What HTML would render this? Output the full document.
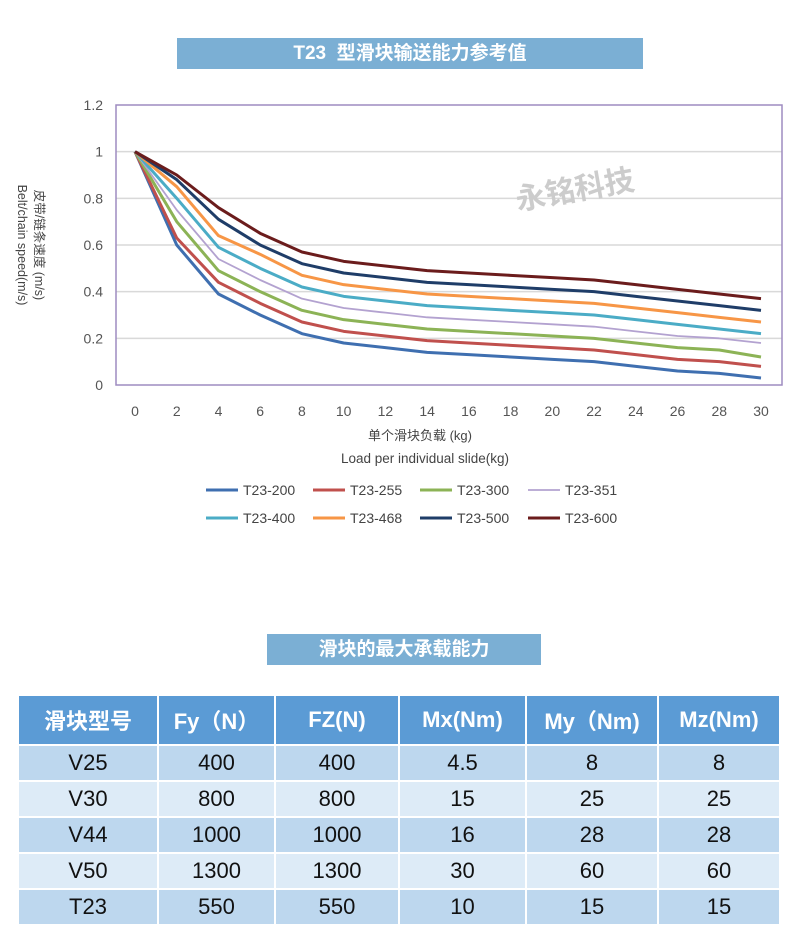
<!DOCTYPE html>
<html><head><meta charset="utf-8"><style>
body{margin:0;width:790px;height:952px;background:#fff;position:relative;overflow:hidden;font-family:"Liberation Sans","Noto Sans CJK SC",sans-serif}
.bar{position:absolute;background:#7bafd4;color:#fff;font-weight:bold;text-align:center;font-size:19px}
table{position:absolute;left:17px;top:694px;border-collapse:collapse;width:764px;border-top:2px solid #aaa}
td,th{border:2px solid #fff;text-align:center;font-size:22px;color:#111;padding:0}
th{background:#5b9bd5;color:#fff;height:48px;font-weight:bold}
tr.a td{background:#bdd7ee;height:34px}
tr.b td{background:#ddebf7;height:34px}
</style></head><body>
<div class="bar" style="left:177px;top:38px;width:466px;height:31px;line-height:31px">T23&nbsp; 型滑块输送能力参考值</div>
<svg id="c" width="790" height="560" style="position:absolute;left:0;top:0" font-family="Liberation Sans, Noto Sans CJK SC, sans-serif"></svg>
<div class="bar" style="left:267px;top:634px;width:274px;height:31px;line-height:31px">滑块的最大承载能力</div>
<table>
<tr><th style="width:138px">滑块型号</th><th style="width:115px">Fy（N）</th><th style="width:122px">FZ(N)</th><th style="width:125px">Mx(Nm)</th><th style="width:130px">My（Nm)</th><th>Mz(Nm)</th></tr>
<tr class="a"><td>V25</td><td>400</td><td>400</td><td>4.5</td><td>8</td><td>8</td></tr>
<tr class="b"><td>V30</td><td>800</td><td>800</td><td>15</td><td>25</td><td>25</td></tr>
<tr class="a"><td>V44</td><td>1000</td><td>1000</td><td>16</td><td>28</td><td>28</td></tr>
<tr class="b"><td>V50</td><td>1300</td><td>1300</td><td>30</td><td>60</td><td>60</td></tr>
<tr class="a"><td>T23</td><td>550</td><td>550</td><td>10</td><td>15</td><td>15</td></tr>
</table>
<script>
var s=document.getElementById('c'),h='';
function X(v){return 135+v*(626/30)}function Y(v){return 385-v*(280/1.2)}
for(var i=1;i<=5;i++){var y=Y(i*0.2);h+='<line x1="116" x2="782" y1="'+y+'" y2="'+y+'" stroke="#d9d9d9" stroke-width="1.5"/>';}
h+='<rect x="116" y="105" width="666" height="280" fill="none" stroke="#9e8cc0" stroke-width="1.5"/>';
['0','0.2','0.4','0.6','0.8','1','1.2'].forEach(function(t,i){h+='<text x="103" y="'+(Y(i*0.2)+5)+'" font-size="14" fill="#555" text-anchor="end">'+t+'</text>'});
for(var k=0;k<=30;k+=2)h+='<text x="'+X(k)+'" y="416" font-size="14" fill="#555" text-anchor="middle">'+k+'</text>';
h+='<text transform="translate(35,245) rotate(90)" font-size="12.5" fill="#444" text-anchor="middle">皮带/链条速度 (m/s)</text>';
h+='<text transform="translate(18,245) rotate(90)" font-size="12.5" fill="#444" text-anchor="middle">Belt/chain speed(m/s)</text>';
h+='<text x="420" y="440" font-size="13" fill="#444" text-anchor="middle">单个滑块负载 (kg)</text>';
h+='<text x="425" y="463" font-size="13.5" fill="#444" text-anchor="middle">Load per individual slide(kg)</text>';
h+='<text x="575" y="200" font-size="30" fill="#ccc" font-weight="bold" text-anchor="middle" transform="rotate(-10 575 190)">永铭科技</text>';
var D=[
['T23-200','#3f6fb0',3,[1,.6,.39,.3,.22,.18,.16,.14,.13,.12,.11,.10,.08,.06,.05,.03]],
['T23-255','#c0504d',3,[1,.63,.44,.35,.27,.23,.21,.19,.18,.17,.16,.15,.13,.11,.10,.08]],
['T23-300','#8cb356',3,[1,.7,.49,.4,.32,.28,.26,.24,.23,.22,.21,.20,.18,.16,.15,.12]],
['T23-351','#b3a2d0',1.8,[1,.75,.54,.45,.37,.33,.31,.29,.28,.27,.26,.25,.23,.21,.20,.18]],
['T23-400','#4bacc6',3,[1,.8,.59,.5,.42,.38,.36,.34,.33,.32,.31,.30,.28,.26,.24,.22]],
['T23-468','#f79646',3,[1,.85,.64,.56,.47,.43,.41,.39,.38,.37,.36,.35,.33,.31,.29,.27]],
['T23-500','#1f3d68',3,[1,.88,.71,.6,.52,.48,.46,.44,.43,.42,.41,.40,.38,.36,.34,.32]],
['T23-600','#6b1c1c',3,[1,.9,.76,.65,.57,.53,.51,.49,.48,.47,.46,.45,.43,.41,.39,.37]]];
var lx=[206,313,420,528];
D.forEach(function(d,j){var p=d[3].map(function(v,i){return X(i*2)+','+Y(v)}).join(' ');
h+='<polyline points="'+p+'" fill="none" stroke="'+d[1]+'" stroke-width="'+d[2]+'" stroke-linejoin="round"/>';
var x=lx[j%4],y=j<4?490:518;
h+='<line x1="'+x+'" x2="'+(x+32)+'" y1="'+y+'" y2="'+y+'" stroke="'+d[1]+'" stroke-width="'+d[2]+'"/>';
h+='<text x="'+(x+37)+'" y="'+(y+5)+'" font-size="14" fill="#444">'+d[0]+'</text>';});
s.innerHTML=h;
</script>
</body></html>
